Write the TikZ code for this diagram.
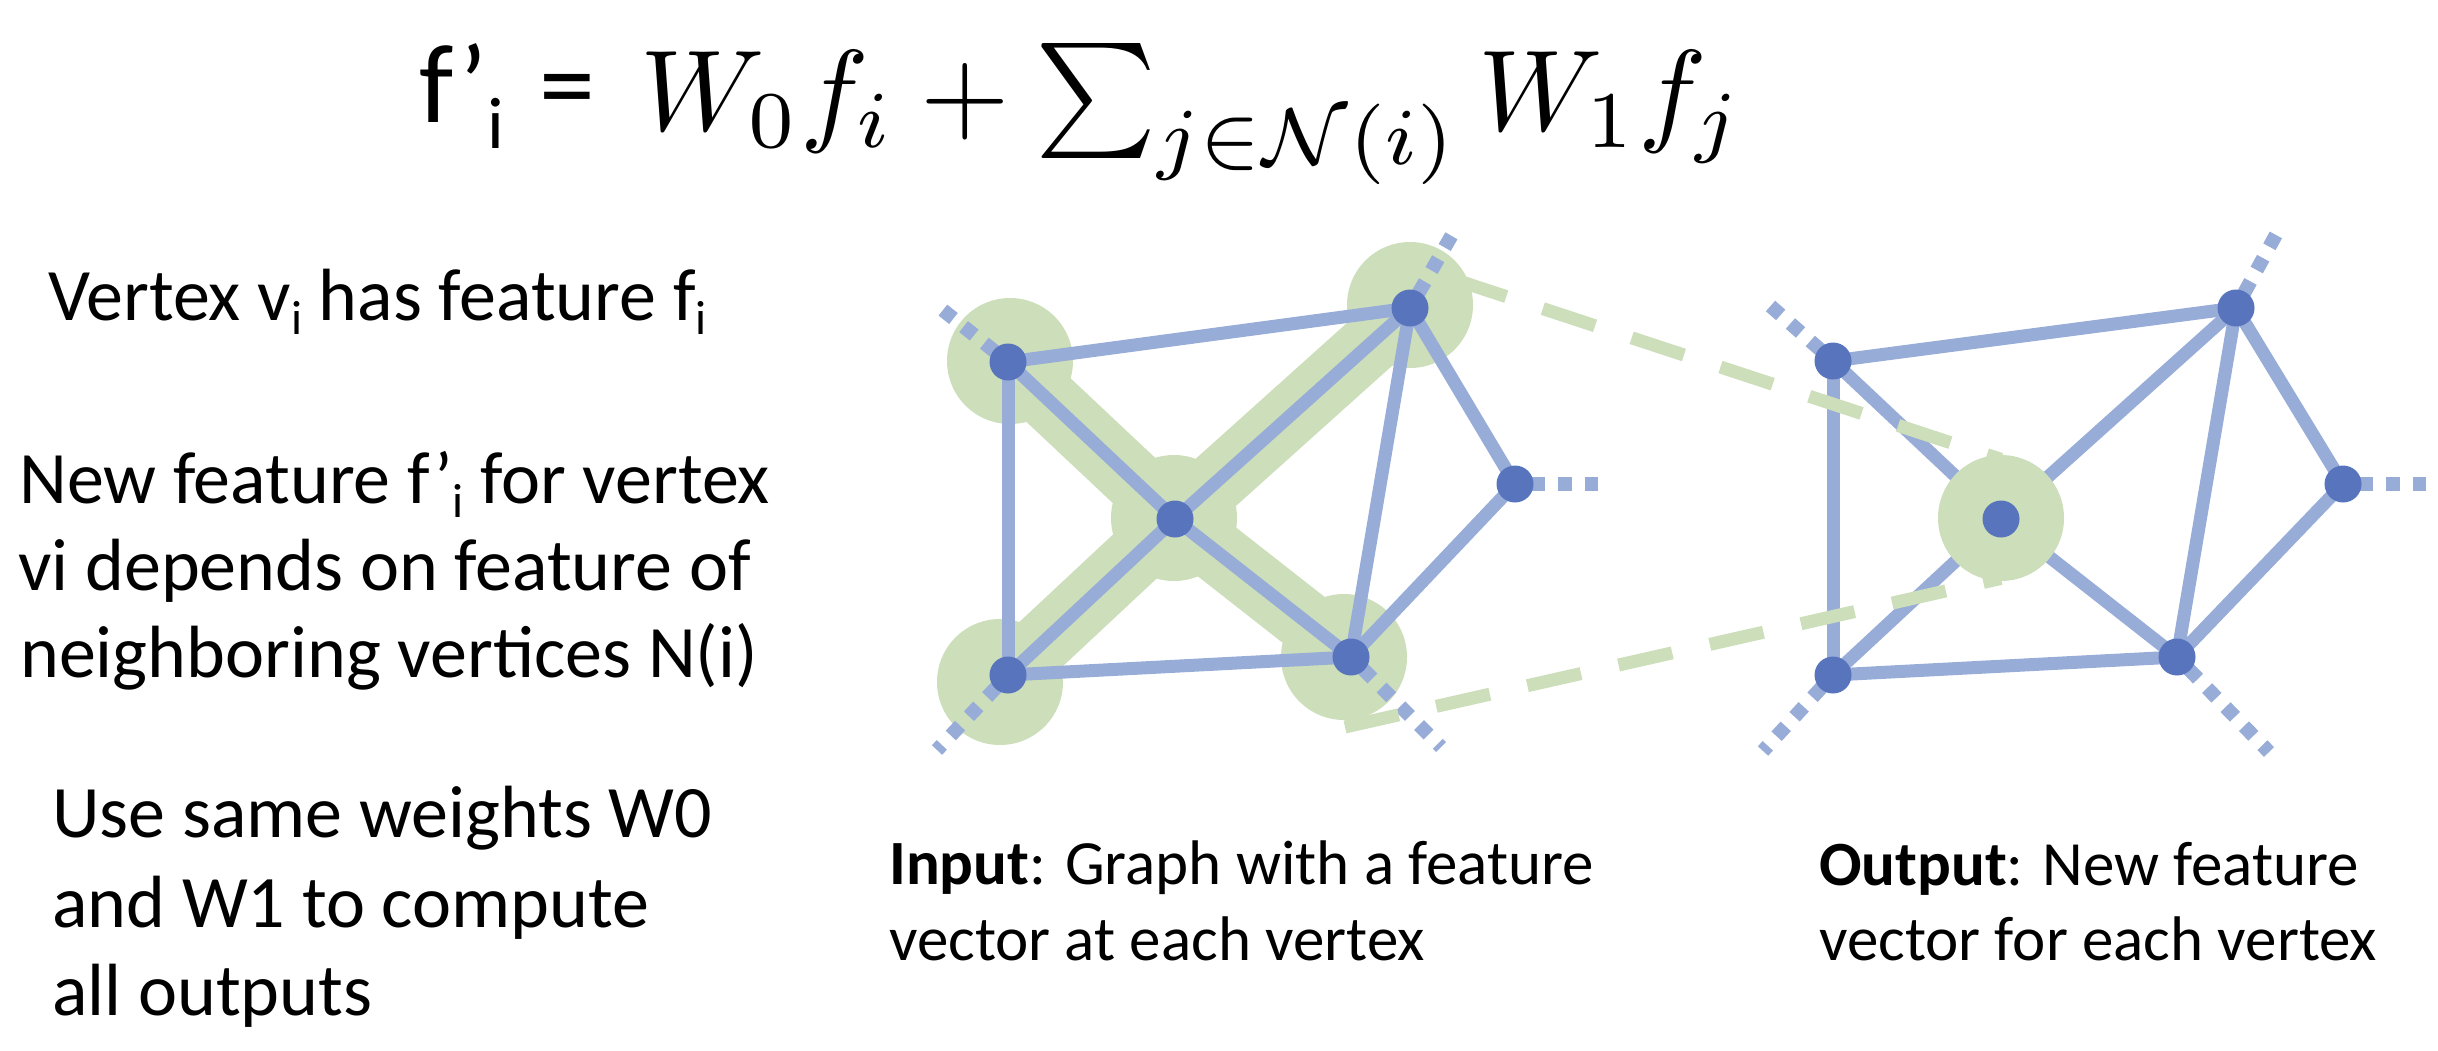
\RequirePackage{fix-cm}
\documentclass[tikz,border=0pt]{standalone}
\usepackage[no-math]{fontspec}
\setmainfont{Carlito}
\usepackage{graphicx}
\definecolor{vblue}{HTML}{5774BD}
\definecolor{eblue}{HTML}{98ACD8}
\definecolor{lgreen}{HTML}{CCDEBA}
\newcommand\psub[1]{\raisebox{-0.2em}{\scalebox{0.65}{#1}}}
\begin{document}
\begin{tikzpicture}[x=1pt,y=-1pt,
  edge/.style={line width=13pt, draw=eblue},
  vert/.style={circle, fill=vblue, inner sep=0pt, minimum size=37pt},
  halo/.style={circle, fill=lgreen, inner sep=0pt, minimum size=126pt},
  band/.style={line width=62pt, draw=lgreen},
  stub/.style={line width=14pt, draw=eblue, dash pattern=on 13.5pt off 13pt, dash phase=9.75pt},
  gdash/.style={line width=13pt, draw=lgreen, dash pattern=on 55pt off 38.5pt},
  txt/.style={anchor=base west, inner sep=0pt, font=\fontsize{74}{87}\selectfont},
  captxt/.style={anchor=base west, inner sep=0pt, font=\fontsize{63}{72}\selectfont}]
\useasboundingbox (0,0) rectangle (2438,1050);
% left graph coordinates
\coordinate (a1) at (1008,362);
\coordinate (a2) at (1410,308);
\coordinate (a3) at (1175,519);
\coordinate (a4) at (1008,675);
\coordinate (a5) at (1351,657);
\coordinate (a6) at (1515,484);
\coordinate (s1) at (939,307);
\coordinate (s2) at (1453,233);
\coordinate (s4) at (937,750);
\coordinate (s5) at (1441,747);
\coordinate (s6) at (1598,484);
% right graph coordinates
\coordinate (b1) at (1833,361);
\coordinate (b2) at (2236,308);
\coordinate (b3) at (2001,519);
\coordinate (b4) at (1833,675);
\coordinate (b5) at (2177,657);
\coordinate (b6) at (2343,484);
\coordinate (t1) at (1766,302);
\coordinate (t2) at (2278,231);
\coordinate (t4) at (1763,751);
\coordinate (t5) at (2269,752);
\coordinate (t6) at (2426,484);
% green dashed line ends
\coordinate (gu1) at (1454,279.4);
\coordinate (gu2) at (2001,459.3);
\coordinate (gl1) at (1345,727);
\coordinate (gl2) at (2001,578.4);
% left halos and bands
\node[halo] (h1) at (1010,361) {};
\node[halo] (h2) at (1410,305) {};
\node[halo] (h3) at (1174,518) {};
\node[halo] (h4) at (1000,682) {};
\node[halo] (h5) at (1344,657) {};
\draw[band] (a1) -- (a3);
\draw[band] (a3) -- (a2);
\draw[band] (a4) -- (a3);
\draw[band] (a3) -- (a5);
% left edges
\draw[edge] (a1) -- (a2);
\draw[edge] (a1) -- (a4);
\draw[edge] (a1) -- (a3);
\draw[edge] (a3) -- (a2);
\draw[edge] (a3) -- (a4);
\draw[edge] (a3) -- (a5);
\draw[edge] (a4) -- (a5);
\draw[edge] (a5) -- (a2);
\draw[edge] (a2) -- (a6);
\draw[edge] (a6) -- (a5);
\draw[stub] (a1) -- (s1);
\draw[stub] (a2) -- (s2);
\draw[stub] (a4) -- (s4);
\draw[stub] (a5) -- (s5);
\draw[stub] (a6) -- (s6);
% right edges
\draw[edge] (b1) -- (b2);
\draw[edge] (b1) -- (b4);
\draw[edge] (b1) -- (b3);
\draw[edge] (b3) -- (b2);
\draw[edge] (b3) -- (b4);
\draw[edge] (b3) -- (b5);
\draw[edge] (b4) -- (b5);
\draw[edge] (b5) -- (b2);
\draw[edge] (b2) -- (b6);
\draw[edge] (b6) -- (b5);
\draw[stub] (b1) -- (t1);
\draw[stub] (b2) -- (t2);
\draw[stub] (b4) -- (t4);
\draw[stub] (b5) -- (t5);
\draw[stub] (b6) -- (t6);
% green dashed projection lines
\draw[gdash] (gu1) -- (gu2);
\draw[gdash] (gl1) -- (gl2);
\node[halo] (h6) at (2001,518) {};
% vertices
\foreach \n in {a1,a2,a3,a4,a5,a6,b1,b2,b3,b4,b5,b6}
  \node[vert] (v-\n) at (\n) {};
% formula
\node[anchor=base west, inner sep=0pt] (tf) at (419,122.7)
  {\fontsize{112}{112}\selectfont f’\raisebox{-25.6pt}{\fontsize{73}{73}\selectfont i}\hspace{10pt} =};
\node[anchor=base west, inner sep=0pt] (tm) at (640,130)
  {\scalebox{11.5}{$W_0 f_i + \sum_{j\in\mathcal{N}(i)} W_1 f_j$}};
% left texts
\node[txt] (l1) at (48,320) {Vertex v\psub{i} has feature f\psub{i}};
\node[txt] (l2) at (19,503) {New feature f’\psub{i} for vertex};
\node[txt] (l3) at (18,590) {vi depends on feature of};
\node[txt] (l4) at (20,677) {neighboring vertices N(i)};
\node[txt] (l5) at (52,837) {Use same weights W0};
\node[txt] (l6) at (52,927) {and W1 to compute};
\node[txt] (l7) at (52,1015) {all outputs};
% captions
\node[captxt] (c1) at (889,884) {\textbf{Input}: Graph with a feature};
\node[captxt] (c2) at (889,960) {vector at each vertex};
\node[captxt] (c3) at (1819,885) {\textbf{Output}: New feature};
\node[captxt] (c4) at (1819,960) {vector for each vertex};
\end{tikzpicture}
\end{document}
